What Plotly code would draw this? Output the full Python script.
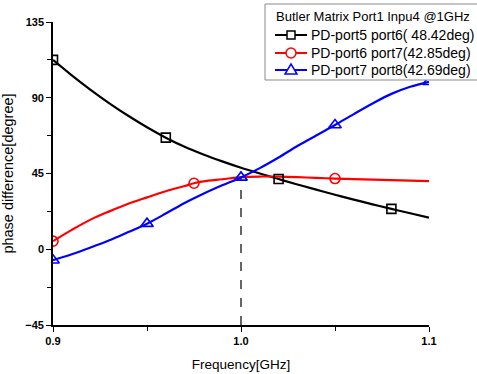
import plotly.graph_objects as go

freq = [0.90, 0.91, 0.92, 0.93, 0.94, 0.95, 0.96, 0.97, 0.98, 0.99, 1.00,
        1.01, 1.02, 1.03, 1.04, 1.05, 1.06, 1.07, 1.08, 1.09, 1.10]
pd56 = [112.5, 103.3, 94.7, 86.7, 79.3, 72.5, 66.3, 60.9, 56.3, 52.2, 48.42,
        45.0, 41.7, 38.5, 35.4, 32.4, 29.5, 26.7, 24.0, 21.4, 18.8]
freq_red = [0.90, 0.91, 0.92, 0.93, 0.94, 0.95, 0.96, 0.97, 0.975, 0.98, 0.99, 1.00,
            1.01, 1.02, 1.03, 1.04, 1.05, 1.06, 1.07, 1.08, 1.09, 1.10]
pd67 = [4.8, 11.5, 17.6, 22.5, 27.0, 30.8, 34.5, 37.6, 39.2, 40.3, 41.6, 42.85,
        43.2, 43.1, 42.8, 42.4, 42.0, 41.7, 41.4, 41.1, 40.8, 40.5]
pd78 = [-6.5, -3.0, 1.0, 5.3, 10.2, 15.2, 21.2, 27.5, 33.0, 38.0, 42.69,
        48.2, 54.5, 61.3, 67.6, 73.8, 80.3, 86.6, 92.3, 96.5, 99.5]

black_mk = [0, 6, 12, 18]
red_mk = [0, 8, 16]
blue_mk = [0, 5, 10, 15, 20]

names = ["PD-port5 port6( 48.42deg)", "PD-port6 port7(42.85deg)", "PD-port7 port8(42.69deg)"]
legend_title = "Butler Matrix Port1 Inpu4 @1GHz"

FONT = "Arial, Liberation Sans"
W, H = 477, 374
ML, MR, MT, MB = 53, 48, 22, 49
PW, PH = W - ML - MR, H - MT - MB


def px(x):
    return (x - ML) / PW


def py(y):
    return (H - MB - y) / PH


fig = go.Figure()

series = [
    (freq, pd56, black_mk, "black", "square-open", 9, names[0]),
    (freq_red, pd67, red_mk, "red", "circle-open", 10, names[1]),
    (freq, pd78, blue_mk, "blue", "triangle-up-open", 11, names[2]),
]

# dashed reference line at 1.0 GHz
i1 = freq.index(1.00)
fig.add_trace(go.Scatter(x=[freq[i1], freq[i1]], y=[-45, pd78[i1]], mode="lines",
                         line=dict(color="black", width=1.2, dash="dash"),
                         showlegend=False, hoverinfo="skip"))

for xs, ys, mk, col, sym, sz, nm in series:
    fig.add_trace(go.Scatter(x=xs, y=ys, mode="lines", line=dict(color=col, width=2.2, shape="spline"),
                             showlegend=False))
for xs, ys, mk, col, sym, sz, nm in series:
    fig.add_trace(go.Scatter(x=[xs[i] for i in mk], y=[ys[i] for i in mk], mode="markers",
                             marker=dict(symbol=sym, size=sz, color=col,
                                         line=dict(color=col, width=1.6)),
                             showlegend=False))

# ---- custom legend (box, symbols, texts) ----
shapes = []
annotations = []
shapes.append(dict(type="rect", xref="paper", yref="paper", layer="above",
                   x0=px(265), x1=px(490), y0=py(80), y1=py(4),
                   fillcolor="white", line=dict(color="#8a8a8a", width=1)))
annotations.append(dict(xref="paper", yref="paper", x=px(274), y=py(17), xanchor="left", yanchor="middle",
                        text=legend_title, showarrow=False,
                        font=dict(family=FONT, size=13, color="black")))
rows = [35, 53, 70]
for (xs, ys, mk, col, sym, sz, nm), ry in zip(series, rows):
    shapes.append(dict(type="line", xref="paper", yref="paper", layer="above",
                       x0=px(275), x1=px(307), y0=py(ry), y1=py(ry),
                       line=dict(color=col, width=2)))
    cx = 291
    if sym.startswith("square"):
        shapes.append(dict(type="rect", xref="paper", yref="paper", layer="above",
                           x0=px(cx - 4), x1=px(cx + 4), y0=py(ry + 4), y1=py(ry - 4),
                           fillcolor="white", line=dict(color=col, width=1.5)))
    elif sym.startswith("circle"):
        shapes.append(dict(type="circle", xref="paper", yref="paper", layer="above",
                           x0=px(cx - 5), x1=px(cx + 5), y0=py(ry + 5), y1=py(ry - 5),
                           fillcolor="white", line=dict(color=col, width=1.5)))
    else:
        path = "M {} {} L {} {} L {} {} Z".format(px(cx - 6), py(ry + 4), px(cx + 6), py(ry + 4),
                                                 px(cx), py(ry - 6))
        shapes.append(dict(type="path", xref="paper", yref="paper", layer="above", path=path,
                           fillcolor="white", line=dict(color=col, width=1.5)))
    annotations.append(dict(xref="paper", yref="paper", x=px(309), y=py(ry), xanchor="left", yanchor="middle",
                            text=nm, showarrow=False,
                            font=dict(family=FONT, size=14, color="black")))

axis_common = dict(showline=True, linecolor="black", linewidth=1.6, ticks="outside",
                   tickcolor="black", tickwidth=1.4, ticklen=5, showgrid=False, zeroline=False,
                   mirror=False,
                   tickfont=dict(family=FONT, size=11, color="black", weight="bold"))

fig.update_xaxes(range=[0.9, 1.1], tickvals=[0.9, 1.0, 1.1], ticktext=["0.9", "1.0", "1.1"],
                 minor=dict(tickvals=[0.95, 1.05], ticks="outside", ticklen=4, tickcolor="black", tickwidth=1.4),
                 title=dict(text="Frequency[GHz]", font=dict(family=FONT, size=13.5, color="black"),
                            standoff=14),
                 **axis_common)
fig.update_yaxes(range=[-45, 135], tickvals=[-45, 0, 45, 90, 135],
                 minor=dict(tickvals=[-22.5, 22.5, 67.5, 112.5], ticks="outside", ticklen=4,
                            tickcolor="black", tickwidth=1.4),
                 title=dict(text="phase difference[degree]", font=dict(family=FONT, size=14.5, color="black"),
                            standoff=8),
                 **axis_common)

fig.update_layout(
    width=W, height=H,
    margin=dict(l=ML, r=MR, t=MT, b=MB, autoexpand=False),
    plot_bgcolor="white", paper_bgcolor="white",
    showlegend=False,
    shapes=shapes,
    annotations=annotations,
)

fig.write_html("out.html")
